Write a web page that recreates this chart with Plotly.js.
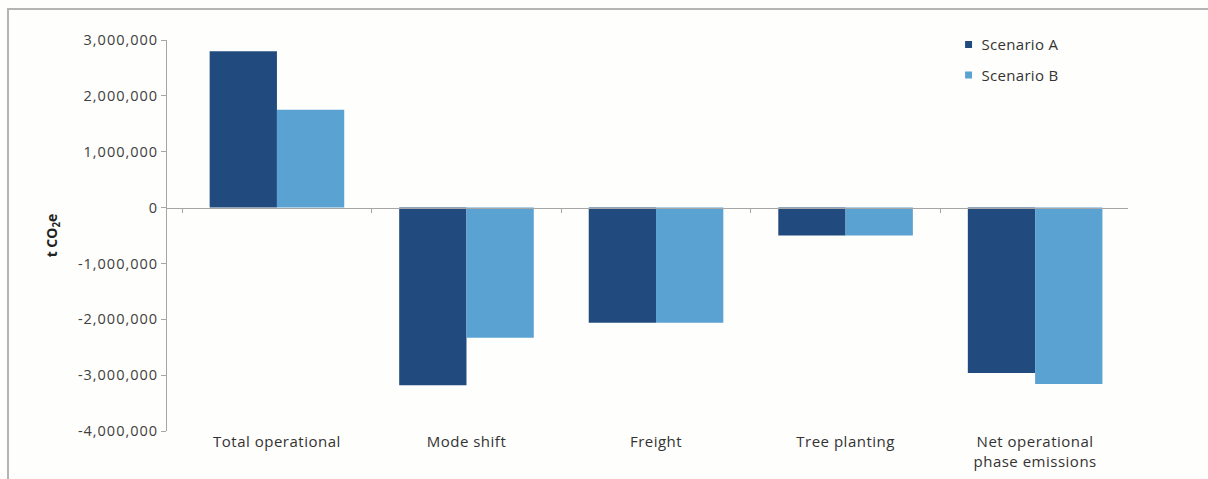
<!DOCTYPE html>
<html>
<head>
<meta charset="utf-8">
<script src="https://cdn.plot.ly/plotly-3.0.1.min.js"></script>
<style>
  html, body { margin: 0; padding: 0; background: #fefefc; }
  #frame { position: absolute; left: 7px; top: 8px; width: 1201px; height: 471px;
           border-top: 2px solid #b4b4b4; border-left: 2px solid #b4b4b4; box-sizing: border-box; }
  #chart { position: absolute; left: 0; top: 0; width: 1208px; height: 479px; }
  .ytick text { letter-spacing: 1px; }
  .xtick text { letter-spacing: 0.5px; }
  .legendtext { letter-spacing: 0.3px; }
  .legendpoints path { transform: translate(27px, 0px) scale(0.58); }
</style>
</head>
<body>
<div id="frame"></div>
<div id="chart"></div>
<script>
const categories = ["Total operational", "Mode shift", "Freight", "Tree planting", "Net operational<br>phase emissions"];
const scenarioA = [2800000, -3180000, -2060000, -500000, -2960000];
const scenarioB = [1750000, -2330000, -2060000, -500000, -3160000];
const yTicks = [3000000, 2000000, 1000000, 0, -1000000, -2000000, -3000000, -4000000];
const yTickText = ["3,000,000", "2,000,000", "1,000,000", "0", "-1,000,000", "-2,000,000", "-3,000,000", "-4,000,000"];

const fontFam = "Open Sans, Noto Sans, sans-serif";

const data = [
  { type: "bar", name: "Scenario A", x: categories, y: scenarioA,
    marker: { color: "#214b7f" }, legendgroup: "a", hoverinfo: "y" },
  { type: "bar", name: "Scenario B", x: categories, y: scenarioB,
    marker: { color: "#5aa2d2" }, legendgroup: "b", hoverinfo: "y" },
  { type: "scatter", mode: "markers", x: categories, y: [0, 0, 0, 0, 0],
    xaxis: "x2", marker: { opacity: 0 }, showlegend: false, hoverinfo: "skip" }
];

const layout = {
  width: 1208, height: 479,
  margin: { l: 167, r: 80, t: 40, b: 48 },
  paper_bgcolor: "rgba(0,0,0,0)",
  plot_bgcolor: "rgba(0,0,0,0)",
  barmode: "group",
  bargap: 0.29,
  bargroupgap: 0,
  font: { family: fontFam, color: "#3a3a3a" },
  xaxis: {
    type: "category",
    range: [-0.58, 4.49],
    showline: false, showgrid: false, zeroline: false,
    ticks: "", tickfont: { size: 15, color: "#333" },
    automargin: false
  },
  xaxis2: {
    type: "category",
    overlaying: "x", matches: "x",
    anchor: "free", position: 0.570,
    showline: true, linecolor: "#a6a6a6", linewidth: 1,
    ticks: "outside", tickson: "boundaries", ticklen: 4, tickcolor: "#a6a6a6",
    showticklabels: false, showgrid: false, zeroline: false
  },
  yaxis: {
    range: [-4000000, 3000000],
    tickvals: yTicks, ticktext: yTickText,
    showline: true, linecolor: "#a6a6a6", linewidth: 1,
    ticks: "outside", ticklen: 5, tickcolor: "#a6a6a6",
    showgrid: false, zeroline: false,
    tickfont: { size: 14.5, color: "#404040" },
    automargin: false,
    title: { text: "t CO<sub>2</sub>e", font: { size: 14, color: "#222" }, standoff: 16 }
  },
  legend: {
    x: 0.806, y: 1.03, xanchor: "left", yanchor: "top",
    font: { size: 15, color: "#333" },
    bgcolor: "rgba(0,0,0,0)",
    traceorder: "grouped", tracegroupgap: 8
  },
  showlegend: true
};

Plotly.newPlot("chart", data, layout, { displayModeBar: false, staticPlot: true }).then(function () {
  document.querySelectorAll(".ytitle").forEach(function (t) { t.style.fontWeight = "bold"; });
});
</script>
</body>
</html>
